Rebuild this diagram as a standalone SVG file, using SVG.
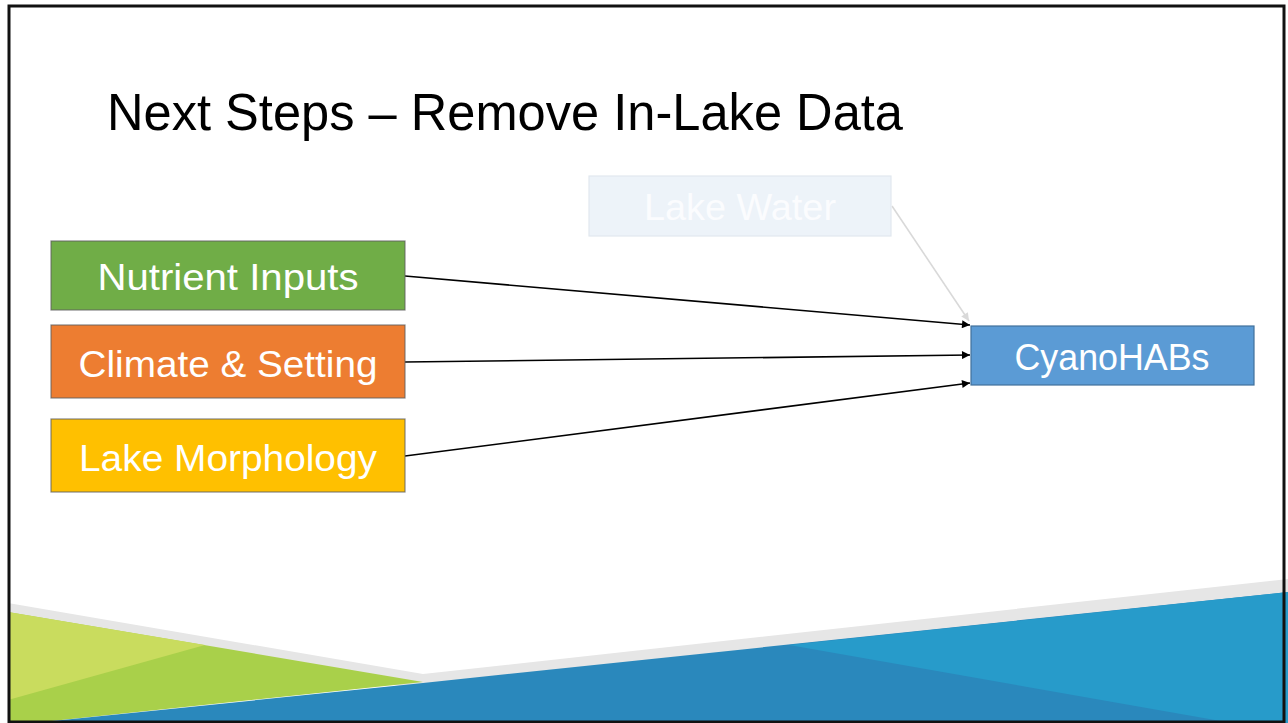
<svg xmlns="http://www.w3.org/2000/svg" width="1288" height="723" viewBox="0 0 1288 723">
  <style>
    .label { font-family: "Liberation Sans", Arial, sans-serif; font-size: 37px; fill: #ffffff; text-anchor: middle; }
    .title { font-family: "Liberation Sans", Arial, sans-serif; font-size: 52px; fill: #000000; }
    .box { stroke: #5e5e5e; stroke-opacity: 0.75; stroke-width: 1.2; }
    .link { fill: none; stroke: #000000; stroke-width: 1.6; }
  </style>
  <defs>
    <marker id="arrow" viewBox="0 0 10 10" refX="10" refY="5" markerWidth="9" markerHeight="8" orient="auto" markerUnits="userSpaceOnUse">
      <path d="M0,0 L10,5 L0,10 z" fill="#000000"/>
    </marker>
    <marker id="arrowFaint" viewBox="0 0 10 10" refX="10" refY="5" markerWidth="9" markerHeight="8" orient="auto" markerUnits="userSpaceOnUse">
      <path d="M0,0 L10,5 L0,10 z" fill="#d9d9d9"/>
    </marker>
  </defs>

  <!-- slide background -->
  <rect x="0" y="0" width="1288" height="723" fill="#ffffff"/>

  <!-- decorative bottom band -->
  <g id="footer-band">
    <polygon points="8,603 423,674 1288,579 1288,598 423,690 8,618" fill="#e6e6e6"/>
    <polygon points="8,612 423,682 33,723 8,723" fill="#a9d04a"/>
    <polygon points="8,612 205,645 8,700" fill="#c9dc5e"/>
    <polygon points="423,683 1288,592 1288,723 33,723" fill="#2a88bc"/>
    <polygon points="789,645 1288,592 1288,723 1232,723" fill="#279bca"/>
  </g>

  <!-- slide frame -->
  <rect x="9" y="6" width="1275" height="716" fill="none" stroke="#111111" stroke-width="3"/>

  <text class="title" x="107" y="130" textLength="796" lengthAdjust="spacingAndGlyphs">Next Steps – Remove In-Lake Data</text>

  <!-- connectors -->
  <g id="connectors">
    <line class="link" x1="405" y1="276" x2="970" y2="325" marker-end="url(#arrow)"/>
    <line class="link" x1="405" y1="362" x2="970" y2="355" marker-end="url(#arrow)"/>
    <line class="link" x1="405" y1="456" x2="970" y2="383" marker-end="url(#arrow)"/>
    <line x1="892" y1="206" x2="969" y2="321" stroke="#d9d9d9" stroke-width="1.6" marker-end="url(#arrowFaint)"/>
  </g>

  <g id="node-lake-water">
    <rect x="589" y="176" width="302" height="60" fill="#edf3f9" stroke="#e2e8ef" stroke-width="1.2"/>
    <text class="label" x="740" y="220" style="fill:#fbfcfe" textLength="192" lengthAdjust="spacingAndGlyphs">Lake Water</text>
  </g>

  <g id="node-nutrient-inputs">
    <rect class="box" x="51" y="241" width="354" height="69" fill="#70ad47"/>
    <text class="label" x="228" y="290" textLength="261" lengthAdjust="spacingAndGlyphs">Nutrient Inputs</text>
  </g>

  <g id="node-climate-setting">
    <rect class="box" x="51" y="325" width="354" height="73" fill="#ed7d31"/>
    <text class="label" x="228" y="377" textLength="299" lengthAdjust="spacingAndGlyphs">Climate &amp; Setting</text>
  </g>

  <g id="node-lake-morphology">
    <rect class="box" x="51" y="419" width="354" height="73" fill="#ffc000"/>
    <text class="label" x="228" y="471" textLength="298" lengthAdjust="spacingAndGlyphs">Lake Morphology</text>
  </g>

  <g id="node-cyanohabs">
    <rect x="971" y="326" width="283" height="59" fill="#5b9bd5" stroke="#41719c" stroke-width="1.2"/>
    <text class="label" x="1112" y="370" textLength="195" lengthAdjust="spacingAndGlyphs">CyanoHABs</text>
  </g>
</svg>
